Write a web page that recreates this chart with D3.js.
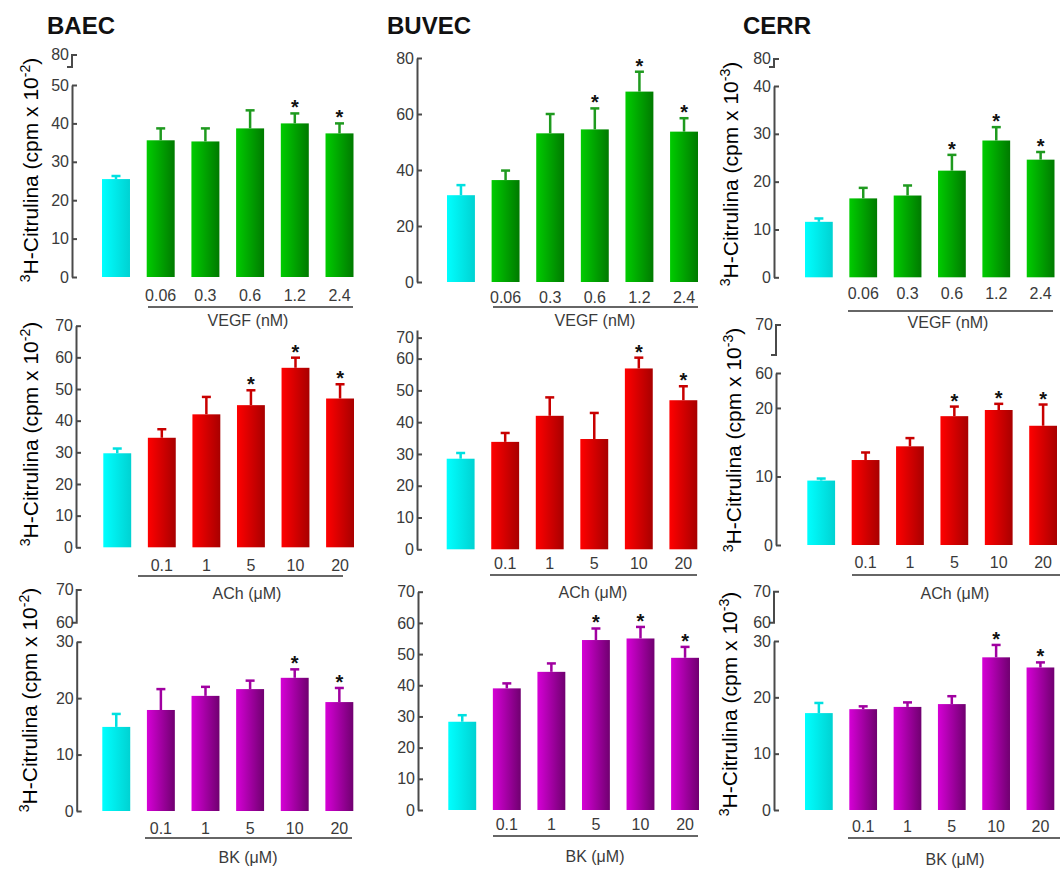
<!DOCTYPE html>
<html>
<head>
<meta charset="utf-8">
<script src="https://cdn.jsdelivr.net/npm/d3@7"></script>
<style>
body{margin:0;background:#fff}
svg{display:block;font-family:"Liberation Sans",Arial,sans-serif}
</style>
</head>
<body>
<svg id="fig" width="1060" height="869"></svg>
<script>
//concentrations on the x axis (control bar has no label)
var concVEGF = ["0.06", "0.3", "0.6", "1.2", "2.4"];
var concACh = ["0.1", "1", "5", "10", "20"];
var concBK = ["0.1", "1", "5", "10", "20"];

//means, first value = control
var baecVEGF = [25.5, 35.6, 35.3, 38.7, 40.0, 37.4];
var buvecVEGF = [31.0, 36.4, 53.1, 54.5, 68.0, 53.7];
var cerrVEGF = [11.6, 16.5, 17.1, 22.3, 28.6, 24.6];
var baecACh = [29.7, 34.6, 42.0, 44.9, 56.7, 47.0];
var buvecACh = [28.5, 33.8, 42.0, 34.7, 56.9, 46.9];
var cerrACh = [9.4, 12.4, 14.4, 18.8, 19.7, 17.4];
var baecBK = [14.9, 17.9, 20.4, 21.6, 23.6, 19.3];
var buvecBK = [28.3, 39.0, 44.3, 54.5, 55.0, 48.8];
var cerrBK = [17.2, 17.9, 18.3, 18.8, 27.1, 25.3];

//error (upper bar only)
var baecVEGFerr = [0.8, 3.1, 3.4, 4.7, 2.6, 2.6];
var buvecVEGFerr = [3.6, 3.4, 6.9, 7.5, 7.1, 4.8];
var cerrVEGFerr = [0.7, 2.2, 2.1, 3.3, 2.8, 1.6];
var baecAChErr = [1.5, 2.7, 5.5, 4.7, 3.2, 4.5];
var buvecAChErr = [1.8, 2.8, 5.8, 8.2, 3.4, 4.4];
var cerrAChErr = [0.3, 1.1, 1.2, 1.4, 0.9, 3.1];
var baecBKerr = [2.3, 3.7, 1.6, 1.5, 1.5, 2.5];
var buvecBKerr = [2.1, 1.6, 2.7, 3.7, 3.7, 3.5];
var cerrBKerr = [1.8, 0.5, 0.8, 1.4, 2.2, 0.9];

//bars marked with *
var baecVEGFstar = [4, 5], buvecVEGFstar = [3, 4, 5], cerrVEGFstar = [3, 4, 5];
var baecAChStar = [3, 4, 5], buvecAChStar = [4, 5], cerrAChStar = [3, 4, 5];
var baecBKstar = [4, 5], buvecBKstar = [3, 4, 5], cerrBKstar = [4, 5];

var cellTitles = ["BAEC", "BUVEC", "CERR"];

var svg = d3.select("#fig");

//horizontal gradients for the bars
var defs = svg.append("defs");
var gradColors = {
    cyan: ["#00ffff", "#00d2d2"],
    green: ["#00cc00", "#007a00"],
    red: ["#ff0000", "#a80000"],
    purple: ["#d600d6", "#700070"]
};
var errColors = {cyan: "#00e0e0", green: "#1f9a1f", red: "#c80000", purple: "#a000a0"};
Object.keys(gradColors).forEach(function (k) {
    var lg = defs.append("linearGradient").attr("id", "g-" + k)
        .attr("x1", "0").attr("x2", "1").attr("y1", "0").attr("y2", "0");
    lg.append("stop").attr("offset", "0%").attr("stop-color", gradColors[k][0]);
    lg.append("stop").attr("offset", "100%").attr("stop-color", gradColors[k][1]);
});

//layout of the nine panels
var panels = [
    {means: baecVEGF, err: baecVEGFerr, star: baecVEGFstar, conc: concVEGF, unit: "VEGF (nM)", color: "green", exp: "-2",
        axisX: 72, y0: 277, yTop: 85, top: 50, ticks: [0, 10, 20, 30, 40, 50], brk: [55, 67, "80", null],
        bars: [102, 353.5], labelY: 295, line: [148, 353, 307], unitPos: [248, 320], ylab: [38, 170]},
    {means: buvecVEGF, err: buvecVEGFerr, star: buvecVEGFstar, conc: concVEGF, unit: "VEGF (nM)", color: "green",
        axisX: 417, y0: 282, yTop: 58, top: 80, ticks: [0, 20, 40, 60, 80],
        bars: [447, 698], labelY: 297, line: [493, 698, 307], unitPos: [595, 320]},
    {means: cerrVEGF, err: cerrVEGFerr, star: cerrVEGFstar, conc: concVEGF, unit: "VEGF (nM)", color: "green", exp: "-3",
        axisX: 774, y0: 277.3, yTop: 86, top: 40, ticks: [0, 10, 20, 30, 40], brk: [59, 67, "80", null],
        bars: [805, 1054.5], labelY: 293, line: [848, 1053, 311], unitPos: [948, 322], ylab: [738, 174]},

    {means: baecACh, err: baecAChErr, star: baecAChStar, conc: concACh, unit: "ACh (\u03bcM)", color: "red", exp: "-2",
        axisX: 76, y0: 547.3, yTop: 325.7, top: 70, ticks: [0, 10, 20, 30, 40, 50, 60, 70],
        bars: [103.3, 354], labelY: 565, line: [138, 343, 576], unitPos: [247, 593], ylab: [38, 434]},
    {means: buvecACh, err: buvecAChErr, star: buvecAChStar, conc: concACh, unit: "ACh (\u03bcM)", color: "red",
        axisX: 417, y0: 549.3, yTop: 330, top: 69, ticks: [0, 10, 20, 30, 40, 50, 60, 66.6],
        tickText: ["0", "10", "20", "30", "40", "50", "60", "70"],
        bars: [446.7, 697.3], labelY: 563, line: [490, 697, 575], unitPos: [593, 592]},
    {means: cerrACh, err: cerrAChErr, star: cerrAChStar, conc: concACh, unit: "ACh (\u03bcM)", color: "red", exp: "-3",
        axisX: 776, y0: 545, yTop: 373, top: 25.1, ticks: [0, 10, 20, 25.1], tickText: ["0", "10", "20", "60"],
        brk: [325, 355, "70", null],
        bars: [807.3, 1057], labelY: 562, line: [852, 1060, 575], unitPos: [955, 593], ylab: [741, 440]},

    {means: baecBK, err: baecBKerr, star: baecBKstar, conc: concBK, unit: "BK (\u03bcM)", color: "purple", exp: "-2",
        axisX: 76.7, y0: 811, yTop: 641.7, top: 30, ticks: [0, 10, 20, 30], brk: [590, 622.7, "70", "60"],
        bars: [102.3, 353.3], labelY: 828, line: [145, 352, 838], unitPos: [248, 857], ylab: [37, 700]},
    {means: buvecBK, err: buvecBKerr, star: buvecBKstar, conc: concBK, unit: "BK (\u03bcM)", color: "purple",
        axisX: 418, y0: 810, yTop: 591.7, top: 70, ticks: [0, 10, 20, 30, 40, 50, 60, 70],
        bars: [448.3, 699], labelY: 824, line: [493, 698, 836], unitPos: [595, 856]},
    {means: cerrBK, err: cerrBKerr, star: cerrBKstar, conc: concBK, unit: "BK (\u03bcM)", color: "purple", exp: "-3",
        axisX: 774, y0: 810, yTop: 641, top: 30, ticks: [0, 10, 20, 30], brk: [591.7, 622.7, "70", "60"],
        bars: [805, 1054.3], labelY: 826, line: [848, 1060, 838], unitPos: [955, 859], ylab: [737, 704]}
];

var axisColor = "#4a4a4a";

panels.forEach(drawPanel);

function drawPanel(p) {
    var g = svg.append("g");

    var y = d3.scaleLinear().domain([0, p.top]).range([p.y0, p.yTop]);
    var x = d3.scaleBand().domain(d3.range(p.means.length)).range(p.bars)
        .paddingInner(0.374).paddingOuter(0);
    var bw = x.bandwidth();

    //y axis, ticks point inward
    var axis = d3.axisLeft(y).tickValues(p.ticks).tickSizeInner(-5).tickSizeOuter(0).tickPadding(3)
        .tickFormat(function (d, i) {
            return p.tickText ? p.tickText[i] : d;
        });
    var ax = g.append("g").attr("transform", "translate(" + p.axisX + ",0)").call(axis)
        .attr("font-family", null).attr("font-size", 16);
    ax.select(".domain").attr("stroke", axisColor).attr("stroke-width", 2);
    ax.selectAll(".tick line").attr("stroke", axisColor).attr("stroke-width", 2);
    ax.selectAll(".tick text").attr("fill", "#3a3a3a");

    //broken-axis piece above the main axis
    if (p.brk) {
        g.append("path")
            .attr("d", "M" + (p.axisX + 5) + "," + p.brk[0] + "H" + p.axisX + "V" + p.brk[1] + "H" + (p.axisX - 5))
            .attr("fill", "none").attr("stroke", axisColor).attr("stroke-width", 2);
        g.append("text").attr("x", p.axisX - 3).attr("y", p.brk[0]).attr("dy", "0.32em")
            .attr("text-anchor", "end").attr("font-size", 16).attr("fill", "#3a3a3a").text(p.brk[2]);
        if (p.brk[3]) {
            g.append("text").attr("x", p.axisX - 3).attr("y", p.brk[1]).attr("dy", "0.32em")
                .attr("text-anchor", "end").attr("font-size", 16).attr("fill", "#3a3a3a").text(p.brk[3]);
        }
    }

    //bars
    g.selectAll(".bar").data(p.means).enter().append("rect")
        .attr("class", "bar")
        .attr("x", function (d, i) { return x(i); })
        .attr("y", function (d) { return y(d); })
        .attr("width", bw)
        .attr("height", function (d) { return y(0) - y(d); })
        .attr("fill", function (d, i) { return "url(#g-" + (i === 0 ? "cyan" : p.color) + ")"; });

    //error bars (upper only)
    var eb = g.selectAll(".err").data(p.means).enter().append("g").attr("class", "err")
        .attr("stroke", function (d, i) { return errColors[i === 0 ? "cyan" : p.color]; })
        .attr("stroke-width", 2.5);
    eb.append("line")
        .attr("x1", function (d, i) { return x(i) + bw / 2; })
        .attr("x2", function (d, i) { return x(i) + bw / 2; })
        .attr("y1", function (d) { return y(d); })
        .attr("y2", function (d, i) { return y(d + p.err[i]); });
    eb.append("line")
        .attr("x1", function (d, i) { return x(i) + bw / 2 - 4.5; })
        .attr("x2", function (d, i) { return x(i) + bw / 2 + 4.5; })
        .attr("y1", function (d, i) { return y(d + p.err[i]); })
        .attr("y2", function (d, i) { return y(d + p.err[i]); });

    //significance stars
    g.selectAll(".star").data(p.star).enter().append("text")
        .attr("class", "star")
        .attr("x", function (i) { return x(i) + bw / 2; })
        .attr("y", function (i) { return y(p.means[i] + p.err[i]) + 1; })
        .attr("text-anchor", "middle").attr("font-size", 20).attr("font-weight", "bold")
        .attr("fill", "#111").text("*");

    //concentration labels
    g.selectAll(".conc").data(p.conc).enter().append("text")
        .attr("class", "conc")
        .attr("x", function (d, i) { return x(i + 1) + bw / 2; })
        .attr("y", p.labelY).attr("dy", "0.35em")
        .attr("text-anchor", "middle").attr("font-size", 16).attr("fill", "#3a3a3a")
        .text(function (d) { return d; });

    g.append("line").attr("x1", p.line[0]).attr("x2", p.line[1])
        .attr("y1", p.line[2]).attr("y2", p.line[2])
        .attr("stroke", "#333").attr("stroke-width", 1.3);

    g.append("text").attr("x", p.unitPos[0]).attr("y", p.unitPos[1]).attr("dy", "0.35em")
        .attr("text-anchor", "middle").attr("font-size", 16).attr("fill", "#3a3a3a")
        .text(p.unit);

    //y label
    if (p.ylab) {
        var t = g.append("text")
            .attr("transform", "translate(" + p.ylab[0] + "," + p.ylab[1] + ") rotate(-90)")
            .attr("text-anchor", "middle").attr("font-size", 21).attr("fill", "#000");
        t.append("tspan").attr("font-size", 14).attr("dy", -8).text("3");
        t.append("tspan").attr("dy", 8).text("H-Citrulina (cpm x 10");
        t.append("tspan").attr("font-size", 14).attr("dy", -8).text(p.exp);
        t.append("tspan").attr("dy", 8).text(")");
    }
}

//column titles
svg.selectAll(".title").data(cellTitles).enter().append("text")
    .attr("class", "title")
    .attr("x", function (d, i) { return [47, 387, 743][i]; })
    .attr("y", 34)
    .attr("font-size", 24).attr("font-weight", "bold").attr("fill", "#111")
    .text(function (d) { return d; });
</script>
</body>
</html>
